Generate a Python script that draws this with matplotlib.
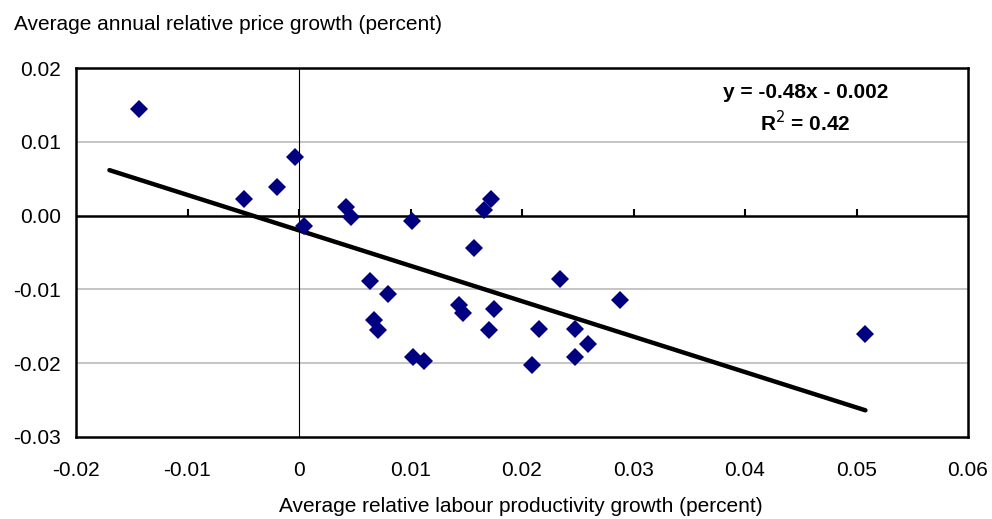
import numpy as np
import matplotlib
matplotlib.use("Agg")
import matplotlib.pyplot as plt

# Data
productivity_growth = [-0.01436, -0.00033, -0.0020, -0.0049, 0.00042, 0.00419, 0.00466,
                       0.0101, 0.01725, 0.01662, 0.01567, 0.00634, 0.00798, 0.01438,
                       0.01474, 0.01752, 0.0234, 0.02882, 0.00675, 0.00709, 0.01707,
                       0.02155, 0.02478, 0.02589, 0.02478, 0.0102, 0.01118, 0.02087,
                       0.05079]
price_growth = [0.01440, 0.00794, 0.00383, 0.00229, -0.00137, 0.00117, -0.00023,
                -0.00073, 0.00221, 0.00076, -0.00435, -0.00886, -0.01058, -0.01207,
                -0.01324, -0.01261, -0.00859, -0.01139, -0.01415, -0.01546, -0.01546,
                -0.01532, -0.01532, -0.01735, -0.0192, -0.0192, -0.01966, -0.02029,
                -0.01604]
trend_slope = -0.48
trend_intercept = -0.002
trend_x = [-0.017, 0.0508]

x_ticks = [-0.02, -0.01, 0.0, 0.01, 0.02, 0.03, 0.04, 0.05, 0.06]
x_tick_labels = ["-0.02", "-0.01", "0", "0.01", "0.02", "0.03", "0.04", "0.05", "0.06"]
y_ticks = [-0.03, -0.02, -0.01, 0.0, 0.01, 0.02]
y_tick_labels = ["-0.03", "-0.02", "-0.01", "0.00", "0.01", "0.02"]

y_title = "Average annual relative price growth (percent)"
x_title = "Average relative labour productivity growth (percent)"
eq_text = "y = -0.48x - 0.002"
r2_text = "R$^2$ = 0.42"

plt.rcParams['font.family'] = ['Liberation Sans', 'DejaVu Sans']
FS = 15

fig = plt.figure(figsize=(9.92, 5.19), dpi=100)
ax = fig.add_axes([76/992, 1-437/519, (968-76)/992, (437-68)/519])

ax.set_xlim(x_ticks[0], x_ticks[-1])
ax.set_ylim(y_ticks[0], y_ticks[-1])

# gridlines
for yv in y_ticks[1:-1]:
    if yv != 0:
        ax.axhline(yv, color="#c0c0c0", lw=1.3, zorder=0)

# axes through origin
ax.axhline(0, color="black", lw=1.8, zorder=1)
ax.axvline(0, color="black", lw=0.8, zorder=1)
ax.vlines(x_ticks[1:-1], 0, 0.0009, color="black", lw=1.5, zorder=1)

# trendline
tx = np.array(trend_x)
ax.plot(tx, trend_slope * tx + trend_intercept, color="black", lw=3.2,
        solid_capstyle="round", zorder=2)

# scatter
ax.plot(productivity_growth, price_growth, linestyle="none", marker="D",
        markersize=8.8, color="#000080", markeredgewidth=0, zorder=3)

for s in ax.spines.values():
    s.set_linewidth(1.8)
    s.set_color("black")

ax.set_xticks(x_ticks)
ax.set_xticklabels(x_tick_labels)
ax.set_yticks(y_ticks)
ax.set_yticklabels(y_tick_labels)
ax.tick_params(axis="both", length=0, labelsize=FS)
ax.tick_params(axis="x", pad=17)
ax.tick_params(axis="y", pad=11)

fig.text(14/992, 1-25/519, y_title, ha="left", va="center", fontsize=FS)
fig.text(521/992, 1-507/519, x_title, ha="center", va="center", fontsize=FS)

fig.text(806/992, 1-93/519, eq_text, ha="center", va="center",
         fontsize=FS, fontweight="bold")
fig.text(805/992, 1-123/519, r2_text, ha="center", va="center",
         fontsize=FS, fontweight="bold")

fig.savefig("out.png", dpi=100)
